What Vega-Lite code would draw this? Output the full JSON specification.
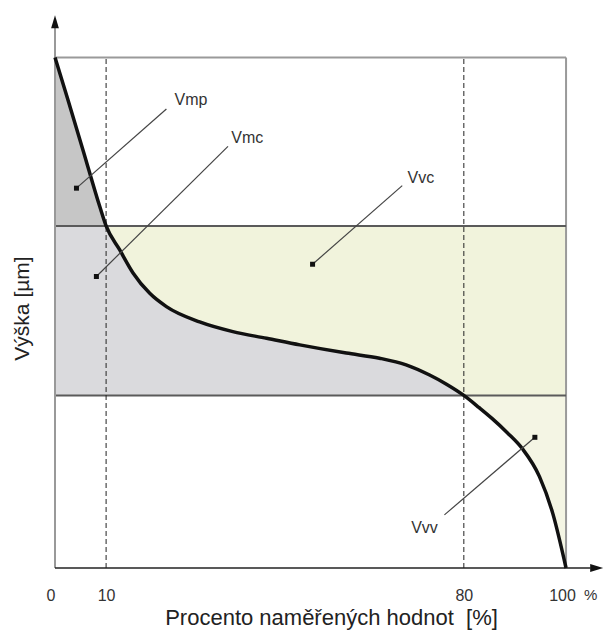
{
  "$schema": "https://vega.github.io/schema/vega-lite/v6.json",
  "autosize": {"type": "none"},
  "padding": {"left": 55, "top": 10, "right": 0, "bottom": 67},
  "width": 555,
  "height": 558,
  "background": "white",
  "config": {"view": {"stroke": null}, "font": "Liberation Sans"},
  "datasets": {
    "curve": [
      {"x": 0, "y": 100}, {"x": 2.5, "y": 91.8}, {"x": 5.5, "y": 81.8}, {"x": 8.76, "y": 70.8},
      {"x": 10, "y": 67}, {"x": 12.67, "y": 62.3}, {"x": 15.27, "y": 57.8}, {"x": 18.54, "y": 53.8},
      {"x": 21.8, "y": 51.2}, {"x": 28.3, "y": 48.2}, {"x": 34.8, "y": 46.3}, {"x": 41.4, "y": 45.0},
      {"x": 47.9, "y": 43.7}, {"x": 57.0, "y": 42.1}, {"x": 63.5, "y": 41.1}, {"x": 68.7, "y": 39.8},
      {"x": 73.3, "y": 37.8}, {"x": 76.6, "y": 36.0}, {"x": 80, "y": 33.8}, {"x": 83.0, "y": 31.4},
      {"x": 85.5, "y": 29.3}, {"x": 88.5, "y": 26.5}, {"x": 91.5, "y": 23.3}, {"x": 94.8, "y": 17.9},
      {"x": 97.4, "y": 10.7}, {"x": 100, "y": 0}
    ],
    "bands": [
      {"region": "Vmc", "x1": 0, "x2": 10, "y1": 33.8, "y2": 67},
      {"region": "Vvc", "x1": 10, "x2": 100, "y1": 33.8, "y2": 67}
    ],
    "levels": [{"y": 67}, {"y": 33.8}],
    "limits": [{"x": 10}, {"x": 80}],
    "frame": [
      {"x1": 0, "x2": 100, "y1": 100, "y2": 100},
      {"x1": 100, "x2": 100, "y1": 0, "y2": 100}
    ],
    "ann": [
      {"name": "Vmp", "px": 4.2, "py": 74.4, "lx": 21.8, "ly": 89.9, "tx": 23.4, "ty": 90.7},
      {"name": "Vmc", "px": 8.1, "py": 57.1, "lx": 33.85, "ly": 82.6, "tx": 34.5, "ty": 83.3},
      {"name": "Vvc", "px": 50.4, "py": 59.5, "lx": 67.95, "ly": 74.9, "tx": 69.0, "ty": 75.5},
      {"name": "Vvv", "px": 93.9, "py": 25.6, "lx": 76.2, "ly": 10.4, "tx": 69.7, "ty": 6.9}
    ]
  },
  "layer": [
    {
      "data": {"name": "bands"},
      "mark": {"type": "rect"},
      "encoding": {
        "x": {
          "field": "x1", "type": "quantitative",
          "scale": {"domain": [0, 108.6], "nice": false, "zero": false},
          "axis": {
            "values": [0, 10, 80, 100],
            "domain": false, "ticks": false, "grid": false,
            "labelFont": "Liberation Sans", "labelFontSize": 16, "labelColor": "#333",
            "labelBaseline": "alphabetic", "labelPadding": 32,
            "labelFlush": false, "labelOverlap": false,
            "labelAlign": {"condition": {"test": "datum.value == 0", "value": "right"}, "value": "center"},
            "labelOffset": {"condition": {"test": "datum.value == 100", "value": -4}, "value": 0},
            "title": "Procento naměřených hodnot\u00a0 [%]",
            "titleFont": "Liberation Sans", "titleFontSize": 22, "titleFontWeight": "normal", "titleColor": "#222",
            "titleX": 276, "titleY": 56, "titleBaseline": "alphabetic", "titleAlign": "center"
          }
        },
        "x2": {"field": "x2"},
        "y": {
          "field": "y1", "type": "quantitative",
          "scale": {"domain": [0, 109.3], "nice": false, "zero": false},
          "axis": {
            "labels": false, "domain": false, "ticks": false, "grid": false,
            "title": "Výška [µm]",
            "titleFont": "Liberation Sans", "titleFontSize": 21, "titleFontWeight": "normal", "titleColor": "#222",
            "titleX": -26.5, "titleY": 298, "titleBaseline": "alphabetic", "titleAlign": "center", "titleAngle": -90
          }
        },
        "y2": {"field": "y2"},
        "color": {"field": "region", "type": "nominal", "scale": {"domain": ["Vmc", "Vvc"], "range": ["#dadadd", "#f1f3dc"]}, "legend": null}
      }
    },
    {
      "data": {"name": "curve"},
      "transform": [{"filter": "datum.x >= 10 && datum.x <= 80"}],
      "mark": {"type": "area", "color": "#dadadd", "interpolate": "monotone"},
      "encoding": {
        "x": {"field": "x", "type": "quantitative"},
        "y": {"field": "y", "type": "quantitative"},
        "y2": {"datum": 33.8}
      }
    },
    {
      "data": {"name": "curve"},
      "transform": [{"filter": "datum.x <= 10"}],
      "mark": {"type": "area", "color": "#c6c6c6", "interpolate": "monotone"},
      "encoding": {
        "x": {"field": "x", "type": "quantitative"},
        "y": {"field": "y", "type": "quantitative"},
        "y2": {"datum": 67}
      }
    },
    {
      "data": {"name": "curve"},
      "transform": [{"filter": "datum.x >= 80"}],
      "mark": {"type": "area", "color": "#f4f5e4", "interpolate": "monotone"},
      "encoding": {
        "x": {"field": "x", "type": "quantitative"},
        "y": {"field": "y", "type": "quantitative"},
        "y2": {"datum": 33.8}
      }
    },
    {
      "data": {"name": "frame"},
      "mark": {"type": "rule", "color": "#9a9a9a", "strokeWidth": 2},
      "encoding": {
        "x": {"field": "x1", "type": "quantitative"},
        "x2": {"field": "x2"},
        "y": {"field": "y1", "type": "quantitative"},
        "y2": {"field": "y2"}
      }
    },
    {
      "data": {"name": "levels"},
      "mark": {"type": "rule", "color": "#5a5a5a", "strokeWidth": 2},
      "encoding": {
        "x": {"datum": 0},
        "x2": {"datum": 100},
        "y": {"field": "y", "type": "quantitative"}
      }
    },
    {
      "data": {"name": "limits"},
      "mark": {"type": "rule", "color": "#222", "strokeWidth": 1, "strokeDash": [5, 3]},
      "encoding": {
        "x": {"field": "x", "type": "quantitative"},
        "y": {"datum": 0},
        "y2": {"datum": 100}
      }
    },
    {
      "data": {"values": [{}]},
      "mark": {"type": "rule", "color": "#999", "strokeWidth": 2},
      "encoding": {"x": {"datum": 0}, "y": {"datum": 0}, "y2": {"datum": 105.8}}
    },
    {
      "data": {"values": [{}]},
      "mark": {"type": "rule", "color": "#222", "strokeWidth": 1.6},
      "encoding": {"x": {"datum": 0}, "x2": {"datum": 104.8}, "y": {"datum": 0}}
    },
    {
      "data": {"values": [{}]},
      "mark": {"type": "point", "filled": true, "opacity": 1, "color": "#111", "shape": "M-0.6,1L0,-1L0.6,1Z", "size": 169},
      "encoding": {"x": {"datum": 0}, "y": {"datum": 107.0}}
    },
    {
      "data": {"values": [{}]},
      "mark": {"type": "point", "filled": true, "opacity": 1, "color": "#111", "shape": "M-1,-0.6L1,0L-1,0.6Z", "size": 169},
      "encoding": {"x": {"datum": 106.0}, "y": {"datum": 0}}
    },
    {
      "data": {"name": "curve"},
      "mark": {"type": "line", "color": "#111", "strokeWidth": 3.5, "interpolate": "monotone"},
      "encoding": {
        "x": {"field": "x", "type": "quantitative"},
        "y": {"field": "y", "type": "quantitative"}
      }
    },
    {
      "data": {"name": "ann"},
      "mark": {"type": "rule", "color": "#444", "strokeWidth": 1.2},
      "encoding": {
        "x": {"field": "px", "type": "quantitative"},
        "x2": {"field": "lx"},
        "y": {"field": "py", "type": "quantitative"},
        "y2": {"field": "ly"}
      }
    },
    {
      "data": {"name": "ann"},
      "mark": {"type": "point", "shape": "square", "filled": true, "opacity": 1, "color": "#111", "size": 25},
      "encoding": {
        "x": {"field": "px", "type": "quantitative"},
        "y": {"field": "py", "type": "quantitative"}
      }
    },
    {
      "data": {"name": "ann"},
      "mark": {"type": "text", "align": "left", "baseline": "alphabetic", "fontSize": 16, "color": "#333", "font": "Liberation Sans"},
      "encoding": {
        "x": {"field": "tx", "type": "quantitative"},
        "y": {"field": "ty", "type": "quantitative"},
        "text": {"field": "name"}
      }
    },
    {
      "data": {"values": [{"unit": "%", "x": 104.8, "y": -6.3}]},
      "mark": {"type": "text", "align": "center", "baseline": "alphabetic", "fontSize": 15, "color": "#333", "font": "Liberation Sans"},
      "encoding": {
        "x": {"field": "x", "type": "quantitative"},
        "y": {"field": "y", "type": "quantitative"},
        "text": {"field": "unit"}
      }
    }
  ]
}
